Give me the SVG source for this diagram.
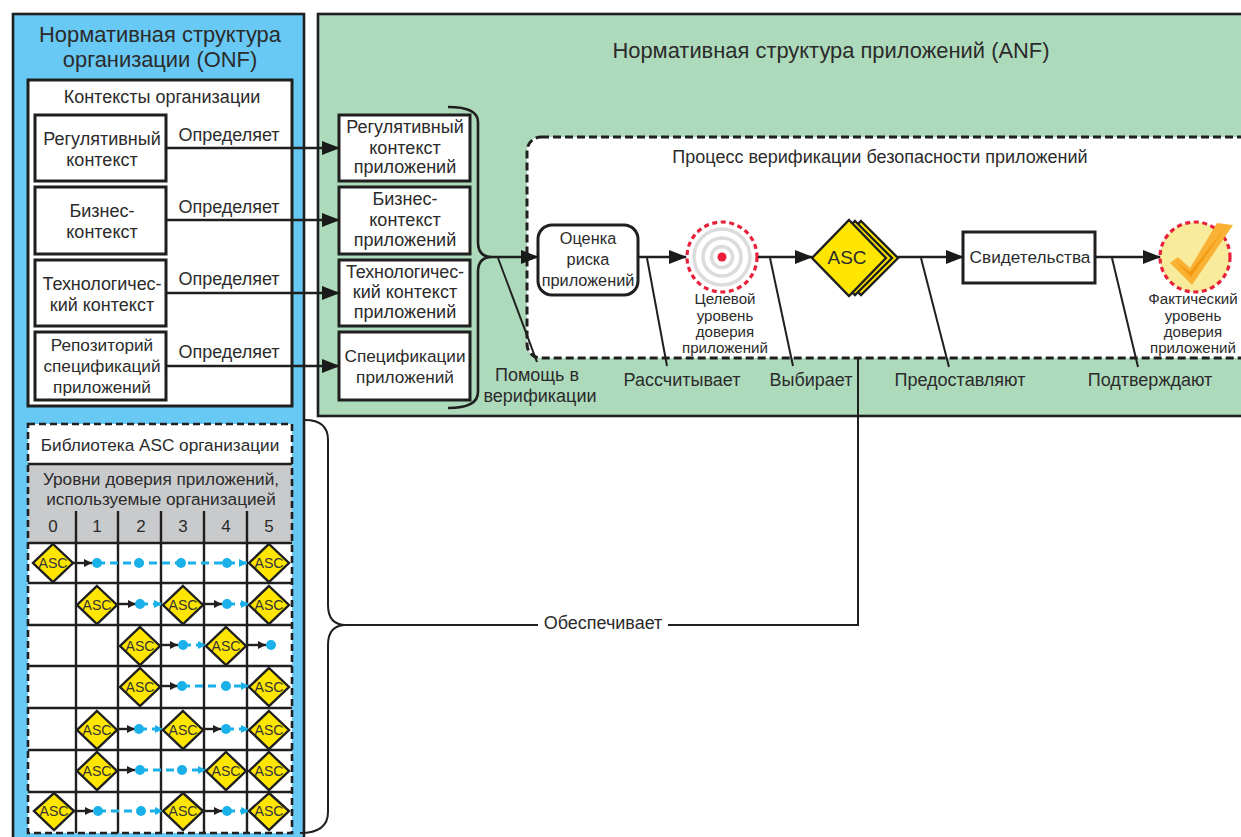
<svg xmlns="http://www.w3.org/2000/svg" width="1241" height="837" viewBox="0 0 1241 837">
<defs>
<marker id="ah" markerWidth="20" markerHeight="16" refX="17" refY="7" orient="auto" markerUnits="userSpaceOnUse"><path d="M0 0L18 7L0 14Z" fill="#1a1a1a"/></marker>
<marker id="sa" markerWidth="10" markerHeight="10" refX="8" refY="4" orient="auto" markerUnits="userSpaceOnUse"><path d="M0 0L8 4L0 8Z" fill="#231f20"/></marker>
<marker id="ba" markerWidth="10" markerHeight="10" refX="8" refY="4" orient="auto" markerUnits="userSpaceOnUse"><path d="M0 0L8 4L0 8Z" fill="#1ab0ea"/></marker>
</defs>
<style>
text{font-family:"Liberation Sans",Arial,sans-serif;fill:#2b2b2b;text-anchor:middle}
.b{fill:#fff;stroke:#1f1f1f;stroke-width:3}
.t{font-size:18px}
.s{font-size:17.2px}
.n{font-size:16.3px}
.m{font-size:15.1px}
.h{font-size:21.9px}
.c{fill:none;stroke:#1f1f1f;stroke-width:2.6}
.l{fill:none;stroke:#1f1f1f;stroke-width:2}
.g{stroke:#1f1f1f;stroke-width:2.4;fill:none}
.d{fill:#ffe600;stroke:#1f1f1f;stroke-width:2.4}
.a{font-size:14px;fill:#333}
.bd{fill:none;stroke:#1ab0ea;stroke-width:2.8;stroke-dasharray:8 5}
.dot{fill:#1ab0ea}
.k{fill:none;stroke:#231f20;stroke-width:2.4}
.ring{fill:none;stroke:#dcdcde;stroke-width:3.6}
.red{fill:none;stroke:#e8203a;stroke-width:3.2;stroke-dasharray:5 3.6}
</style>
<rect width="1241" height="837" fill="#fff"/>

<g id="onf-panel">
<rect x="13" y="14" width="291" height="830" fill="#68c9f5" stroke="#1f1f1f" stroke-width="2.6"/>
<text class="h" x="160" y="42">Нормативная структура</text>
<text class="h" x="160" y="67">организации (ONF)</text>
</g>
<g id="anf-panel">
<rect x="318" y="14" width="930" height="402" fill="#aedabc" stroke="#1f1f1f" stroke-width="2.6"/>
<text class="h" x="831" y="58">Нормативная структура приложений (ANF)</text>
</g>

<g id="org-contexts">
<rect class="b" x="28" y="80" width="264" height="326"/>
<text class="t" x="162" y="103">Контексты организации</text>
</g>
<g id="org-reg"><rect class="b" x="35" y="115" width="131" height="66"/><text class="t" x="102" y="145">Регулятивный</text><text class="t" x="102" y="166">контекст</text></g>
<g id="org-bus"><rect class="b" x="35" y="187" width="131" height="67"/><text class="t" x="102" y="217">Бизнес-</text><text class="t" x="102" y="238">контекст</text></g>
<g id="org-tech"><rect class="b" x="35" y="260" width="131" height="66"/><text class="t" x="102" y="290" textLength="119">Технологичес-</text><text class="t" x="102" y="311">кий контекст</text></g>
<g id="org-repo"><rect class="b" x="35" y="332" width="131" height="68"/><text class="s" x="102" y="351">Репозиторий</text><text class="s" x="102" y="372">спецификаций</text><text class="s" x="102" y="393">приложений</text></g>

<g id="app-reg"><rect class="b" x="339" y="115" width="131" height="66"/><text class="t" x="405" y="133">Регулятивный</text><text class="t" x="405" y="154">контекст</text><text class="t" x="405" y="173">приложений</text></g>
<g id="app-bus"><rect class="b" x="339" y="187" width="131" height="67"/><text class="t" x="405" y="205">Бизнес-</text><text class="t" x="405" y="226">контекст</text><text class="t" x="405" y="246">приложений</text></g>
<g id="app-tech"><rect class="b" x="339" y="260" width="131" height="66"/><text class="t" x="405" y="278" textLength="118">Технологичес-</text><text class="t" x="405" y="298">кий контекст</text><text class="t" x="405" y="318">приложений</text></g>
<g id="app-spec"><rect class="b" x="339" y="332" width="131" height="68"/><text class="s" x="405" y="362">Спецификации</text><text class="s" x="405" y="383">приложений</text></g>

<g id="process">
<rect x="527" y="137" width="730" height="221" rx="14" fill="#fff" stroke="#1f1f1f" stroke-width="3" stroke-dasharray="8 4"/>
<text class="t" x="880" y="163">Процесс верификации безопасности приложений</text>
</g>
<g id="risk"><rect x="538" y="225" width="100" height="70" rx="14" fill="#fff" stroke="#1f1f1f" stroke-width="3"/><text class="n" x="588" y="244">Оценка</text><text class="n" x="588" y="265">риска</text><text class="n" x="588" y="286">приложений</text></g>
<g id="target">
<circle class="ring" cx="722" cy="257" r="28"/><circle class="ring" cx="722" cy="257" r="19"/><circle class="ring" cx="722" cy="257" r="10.5"/>
<circle cx="722" cy="257" r="4.5" fill="#ed1c3a"/>
<circle class="red" cx="722" cy="257" r="35"/>
<text class="m" x="725" y="304">Целевой</text><text class="m" x="725" y="321">уровень</text><text class="m" x="725" y="337">доверия</text><text class="m" x="725" y="353">приложений</text>
</g>
<g id="asc-stack">
<path class="d" d="M861 221L898 258L861 295L824 258Z"/>
<path class="d" d="M855 221L892 258L855 295L818 258Z"/>
<path class="d" d="M849 220L886 258L849 296L812 258Z"/>
<text font-size="19" x="847" y="264">ASC</text>
</g>
<g id="evidence"><rect class="b" x="963" y="232" width="132" height="51"/><text class="s" x="1030" y="263">Свидетельства</text></g>
<g id="actual">
<circle cx="1195" cy="257" r="35" fill="#f8eb9c"/>
<circle class="red" cx="1195" cy="257" r="35"/>
<path d="M1170 263L1192 285L1233 225L1217 223L1190 268L1178 257Z" fill="#f9b233"/>
<path d="M1175 261L1191 277L1226 227L1190 272Z" fill="#f39a10"/>
<text class="m" x="1193" y="304">Фактический</text><text class="m" x="1193" y="321">уровень</text><text class="m" x="1193" y="337">доверия</text><text class="m" x="1193" y="353">приложений</text>
</g>

<g id="connectors">
<path class="c" d="M166 148H339" marker-end="url(#ah)"/>
<path class="c" d="M166 220H339" marker-end="url(#ah)"/>
<path class="c" d="M166 293H339" marker-end="url(#ah)"/>
<path class="c" d="M166 366H339" marker-end="url(#ah)"/>
<path class="c" d="M448 107Q478 107 478 122V242Q478 257 492 257Q478 257 478 272V392Q478 408 448 408"/>
<path class="c" d="M492 257H538" marker-end="url(#ah)"/>
<path class="c" d="M638 257H686" marker-end="url(#ah)"/>
<path class="c" d="M758 257H812" marker-end="url(#ah)"/>
<path class="c" d="M898 257H963" marker-end="url(#ah)"/>
<path class="c" d="M1095 257H1160" marker-end="url(#ah)"/>
<path class="l" d="M498 258L537 362"/>
<path class="l" d="M647 258L667 366"/>
<path class="l" d="M770 258L793 366"/>
<path class="l" d="M921 258L949 367"/>
<path class="l" d="M1112 258L1138 367"/>
<path class="l" d="M305 420Q328 420 328 440V605Q328 625 346 625Q328 625 328 645V812Q328 833 300 833"/>
<path class="l" d="M858 358V625H668"/>
<path class="l" d="M346 625H538"/>
</g>
<g id="connector-labels">
<text class="t" x="229" y="141">Определяет</text>
<text class="t" x="229" y="213">Определяет</text>
<text class="t" x="229" y="285">Определяет</text>
<text class="t" x="229" y="358">Определяет</text>
<text class="t" x="537" y="381">Помощь в</text>
<text class="t" x="540" y="402">верификации</text>
<text class="t" x="682" y="386">Рассчитывает</text>
<text class="t" x="811" y="386">Выбирает</text>
<text class="t" x="960" y="386">Предоставляют</text>
<text class="t" x="1150" y="386">Подтверждают</text>
<text class="t" x="603" y="629">Обеспечивает</text>
</g>

<g id="asc-library">
<rect x="28" y="424" width="264" height="409" fill="#fff"/>
<rect x="28" y="464" width="264" height="79" fill="#c9cacc"/>
<text class="s" x="160" y="451">Библиотека ASC организации</text>
<text class="s" x="161" y="485">Уровни доверия приложений,</text>
<text class="s" x="161" y="505">используемые организацией</text>
<g font-size="17"><text x="53" y="532">0</text><text x="97" y="532">1</text><text x="141" y="532">2</text><text x="183" y="532">3</text><text x="226" y="532">4</text><text x="269" y="532">5</text></g>
<path class="g" d="M28 464H292M28 543H292M28 583H292M28 625H292M28 666H292M28 708H292M28 750H292M28 792H292"/>
<path class="g" d="M76 511V833M118 511V833M161 511V833M204 511V833M247 511V833"/>
<rect x="28" y="424" width="264" height="409" fill="none" stroke="#1f1f1f" stroke-width="2.6" stroke-dasharray="7 4"/>
</g>

<g id="asc-paths">
<path class="k" d="M73 563H92" marker-end="url(#sa)"/><path class="bd" d="M97 563H247" marker-end="url(#ba)"/>
<circle class="dot" cx="97" cy="563" r="5"/><circle class="dot" cx="139" cy="563" r="5"/><circle class="dot" cx="181" cy="563" r="5"/><circle class="dot" cx="227" cy="563" r="5"/>
<path class="k" d="M117 604H136" marker-end="url(#sa)"/><path class="bd" d="M140 604H162" marker-end="url(#ba)"/><circle class="dot" cx="140" cy="604" r="5"/>
<path class="k" d="M202 604H222" marker-end="url(#sa)"/><path class="bd" d="M227 604H249" marker-end="url(#ba)"/><circle class="dot" cx="227" cy="604" r="5"/>
<path class="k" d="M160 645H178" marker-end="url(#sa)"/><path class="bd" d="M183 645H206" marker-end="url(#ba)"/><circle class="dot" cx="183" cy="645" r="5"/>
<path class="k" d="M246 645H266" marker-end="url(#sa)"/><circle class="dot" cx="271" cy="645" r="5"/>
<path class="k" d="M160 686H178" marker-end="url(#sa)"/><path class="bd" d="M182 686H249" marker-end="url(#ba)"/><circle class="dot" cx="182" cy="686" r="5"/><circle class="dot" cx="226" cy="686" r="5"/>
<path class="k" d="M117 729H135" marker-end="url(#sa)"/><path class="bd" d="M139 729H163" marker-end="url(#ba)"/><circle class="dot" cx="139" cy="729" r="5"/>
<path class="k" d="M202 729H221" marker-end="url(#sa)"/><path class="bd" d="M226 729H249" marker-end="url(#ba)"/><circle class="dot" cx="226" cy="729" r="5"/>
<path class="k" d="M117 770H135" marker-end="url(#sa)"/><path class="bd" d="M140 770H206" marker-end="url(#ba)"/><circle class="dot" cx="140" cy="770" r="5"/><circle class="dot" cx="182" cy="770" r="5"/>
<path class="k" d="M74 811H93" marker-end="url(#sa)"/><path class="bd" d="M98 811H163" marker-end="url(#ba)"/><circle class="dot" cx="98" cy="811" r="5"/><circle class="dot" cx="141" cy="811" r="5"/>
<path class="k" d="M202 811H222" marker-end="url(#sa)"/><path class="bd" d="M227 811H249" marker-end="url(#ba)"/><circle class="dot" cx="227" cy="811" r="5"/>
</g>
<g id="asc-diamonds">
<path class="d" d="M53 544L73 563L53 582L33 563Z"/><text class="a" x="53" y="568" textLength="29" lengthAdjust="spacingAndGlyphs">ASC</text>
<path class="d" d="M269 544L289 563L269 582L249 563Z"/><text class="a" x="269" y="568" textLength="29" lengthAdjust="spacingAndGlyphs">ASC</text>
<path class="d" d="M97 586L117 605L97 624L77 605Z"/><text class="a" x="97" y="610" textLength="29" lengthAdjust="spacingAndGlyphs">ASC</text>
<path class="d" d="M183 586L203 605L183 624L163 605Z"/><text class="a" x="183" y="610" textLength="29" lengthAdjust="spacingAndGlyphs">ASC</text>
<path class="d" d="M269 586L289 605L269 624L249 605Z"/><text class="a" x="269" y="610" textLength="29" lengthAdjust="spacingAndGlyphs">ASC</text>
<path class="d" d="M140 627L160 646L140 665L120 646Z"/><text class="a" x="140" y="651" textLength="29" lengthAdjust="spacingAndGlyphs">ASC</text>
<path class="d" d="M226 627L246 646L226 665L206 646Z"/><text class="a" x="226" y="651" textLength="29" lengthAdjust="spacingAndGlyphs">ASC</text>
<path class="d" d="M140 668L160 687L140 706L120 687Z"/><text class="a" x="140" y="692" textLength="29" lengthAdjust="spacingAndGlyphs">ASC</text>
<path class="d" d="M269 668L289 687L269 706L249 687Z"/><text class="a" x="269" y="692" textLength="29" lengthAdjust="spacingAndGlyphs">ASC</text>
<path class="d" d="M97 711L117 730L97 749L77 730Z"/><text class="a" x="97" y="735" textLength="29" lengthAdjust="spacingAndGlyphs">ASC</text>
<path class="d" d="M183 711L203 730L183 749L163 730Z"/><text class="a" x="183" y="735" textLength="29" lengthAdjust="spacingAndGlyphs">ASC</text>
<path class="d" d="M269 711L289 730L269 749L249 730Z"/><text class="a" x="269" y="735" textLength="29" lengthAdjust="spacingAndGlyphs">ASC</text>
<path class="d" d="M97 752L117 771L97 790L77 771Z"/><text class="a" x="97" y="776" textLength="29" lengthAdjust="spacingAndGlyphs">ASC</text>
<path class="d" d="M226 752L246 771L226 790L206 771Z"/><text class="a" x="226" y="776" textLength="29" lengthAdjust="spacingAndGlyphs">ASC</text>
<path class="d" d="M269 752L289 771L269 790L249 771Z"/><text class="a" x="269" y="776" textLength="29" lengthAdjust="spacingAndGlyphs">ASC</text>
<path class="d" d="M54 793L74 811L54 830L34 811Z"/><text class="a" x="54" y="816" textLength="29" lengthAdjust="spacingAndGlyphs">ASC</text>
<path class="d" d="M183 793L203 811L183 830L163 811Z"/><text class="a" x="183" y="816" textLength="29" lengthAdjust="spacingAndGlyphs">ASC</text>
<path class="d" d="M269 793L289 811L269 830L249 811Z"/><text class="a" x="269" y="816" textLength="29" lengthAdjust="spacingAndGlyphs">ASC</text>
</g>
</svg>
